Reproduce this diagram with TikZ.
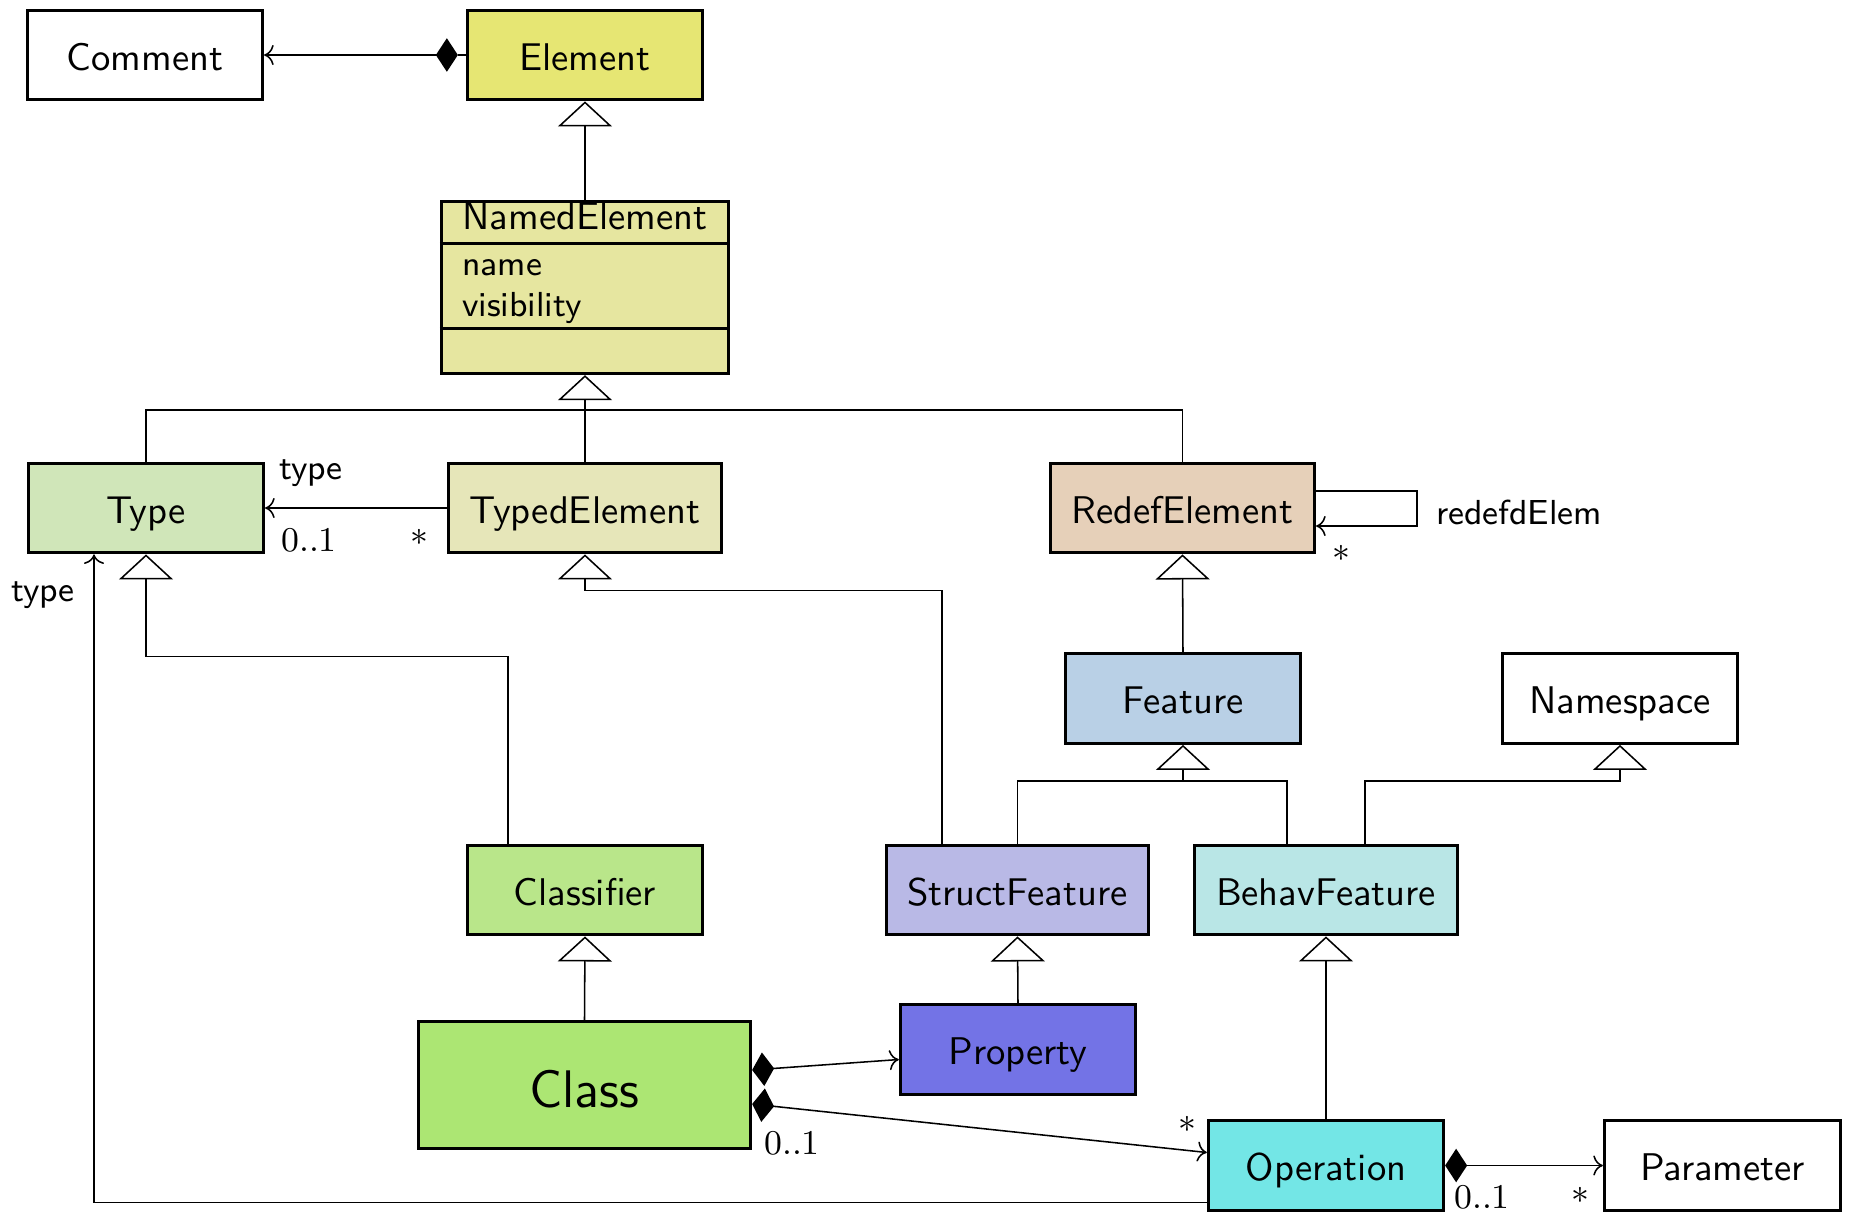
\documentclass[tikz,border=0pt]{standalone}
\usetikzlibrary{arrows.meta,calc}
\newlength\pxu
\setlength\pxu{0.2591pt}
\definecolor{cElement}{RGB}{230,230,115}
\definecolor{cNamed}{RGB}{230,230,160}
\definecolor{cType}{RGB}{208,230,185}
\definecolor{cTyped}{RGB}{230,230,185}
\definecolor{cRedef}{RGB}{230,208,185}
\definecolor{cFeature}{RGB}{185,208,230}
\definecolor{cClassifier}{RGB}{185,230,138}
\definecolor{cClass}{RGB}{172,230,115}
\definecolor{cStruct}{RGB}{185,185,230}
\definecolor{cProperty}{RGB}{115,115,230}
\definecolor{cBehav}{RGB}{185,230,230}
\definecolor{cOperation}{RGB}{115,230,230}
\begin{document}
\begin{tikzpicture}[x=\pxu,y=-\pxu,
  box/.style={draw, line width=0.85pt, inner sep=0pt, minimum width=235\pxu, minimum height=89.5\pxu, font=\sffamily, text height=8pt, text depth=0pt},
  gen/.style={line width=0.4pt, -{Triangle[open,length=6.5pt,width=14pt]}},
  assoc/.style={line width=0.4pt, -{To}},
  comp/.style={line width=0.4pt, {Diamond[length=5.7pt,width=8.7pt]}-{To}},
  lbl/.style={font=\sffamily\small, inner sep=0pt},
  mult/.style={font=\rmfamily\small, inner sep=0pt}]
\useasboundingbox (0,0) rectangle (1849,1213);

% classes
\node[box] (Comment) at (145,55) {Comment};
\node[box, fill=cElement] (Element) at (585,55) {Element};
\node[box, fill=cNamed, minimum width=287\pxu, minimum height=172\pxu] (Named) at (585,287.5) {};
\draw[line width=0.85pt] ($(Named.north west)+(0,43.5)$) -- ($(Named.north east)+(0,43.5)$);
\draw[line width=0.85pt] ($(Named.north west)+(0,128.5)$) -- ($(Named.north east)+(0,128.5)$);
\node[font=\sffamily, anchor=base, inner sep=0pt] (NamedTitle) at ($(Named.north)+(0,29.5)$) {NamedElement};
\node[font=\sffamily\small, anchor=base west, inner sep=0pt] (NamedA1) at ($(Named.north west)+(21.5,76)$) {name};
\node[font=\sffamily\small, anchor=base west, inner sep=0pt] (NamedA2) at ($(Named.north west)+(21.5,117)$) {visibility};

\node[box, fill=cType] (Type) at (146,508) {Type};
\node[box, fill=cTyped, minimum width=273\pxu] (Typed) at (585,508) {TypedElement};
\node[box, fill=cRedef, minimum width=264\pxu] (Redef) at (1182.5,508) {RedefElement};
\node[box, fill=cFeature] (Feature) at (1183,698.5) {Feature};
\node[box] (Namespace) at (1620,698.5) {Namespace};
\node[box, fill=cClassifier] (Classifier) at (585,890) {Classifier};
\node[box, fill=cStruct, minimum width=262\pxu] (Struct) at (1017.5,890) {StructFeature};
\node[box, fill=cBehav, minimum width=263\pxu] (Behav) at (1326,890) {BehavFeature};
\node[box, fill=cClass, minimum width=332\pxu, minimum height=127\pxu, font=\fontsize{13.7}{16}\selectfont\sffamily, text height=11.4pt] (Class) at (584.5,1085) {Class};
\node[box, fill=cProperty] (Property) at (1018,1049.5) {Property};
\node[box, fill=cOperation] (Operation) at (1326,1165.5) {Operation};
\node[box, minimum width=236\pxu] (Parameter) at (1722.5,1165.5) {Parameter};

% generalizations
\draw[gen] (Element.south |- Named.north) -- (Element.south);
\coordinate (bar) at ($(Named.south)+(0,35)$);
\draw[gen] (Type.north) |- (bar) -- (Named.south);
\draw (Typed.north) -- (bar);
\draw (Redef.north) |- (bar);
\draw[gen] ($(Classifier.north)+(-77,0)$) |- ($(Type.south)+(0,102)$) -- (Type.south);
\draw[gen] ($(Struct.north)+(-75.5,0)$) |- ($(Typed.south)+(0,36)$) -- (Typed.south);
\draw[gen] (Feature.north) -- (Redef.south);
\coordinate (fbar) at ($(Feature.south)+(0,36)$);
\draw[gen] (Struct.north) |- (fbar) -- (Feature.south);
\draw ($(Behav.north)+(-39,0)$) |- (fbar);
\draw[gen] ($(Behav.north)+(39,0)$) |- ($(Namespace.south)+(0,36)$) -- (Namespace.south);
\draw[gen] (Class.north) -- (Classifier.south);
\draw[gen] (Property.north) -- (Struct.south);
\draw[gen] (Operation.north) -- (Behav.south);

% associations
\coordinate (eComp) at ($(Element.west)+(-8,0)$);
\draw[line width=0.4pt] (Element.west) -- (eComp);
\draw[comp] (eComp) -- (Comment.east);
\draw[assoc] (Typed.west) -- (Type.east);
\draw[assoc] ($(Redef.east)+(0,-17)$) -- ++(101,0) -- ++(0,35) -- ($(Redef.east)+(0,18)$);
\draw[assoc] ($(Operation.south west)+(0,-9.5)$) -| ($(Type.south)+(-52,0)$);
\draw[comp] ($(Class.east)+(0,-15)$) -- ($(Property.west)+(0,10)$);
\draw[comp] ($(Class.east)+(0,19)$) -- ($(Operation.west)+(0,-13)$);
\draw[comp] (Operation.east) -- (Parameter.west);

% labels
\node[lbl] (l1) at (311,473) {type};
\node[mult] (m1) at (309,540) {0..1};
\node[mult] (m2) at (419,537) {$\ast$};
\node[lbl] (l2) at (43,595) {type};
\node[lbl] (l3) at (1519,512) {redefdElem};
\node[mult] (m3) at (1341,553) {$\ast$};
\node[mult] (m4) at (1187,1124) {$\ast$};
\node[mult] (m5) at (792,1143) {0..1};
\node[mult] (m6) at (1482,1197) {0..1};
\node[mult] (m7) at (1580,1195) {$\ast$};
\end{tikzpicture}
\end{document}
